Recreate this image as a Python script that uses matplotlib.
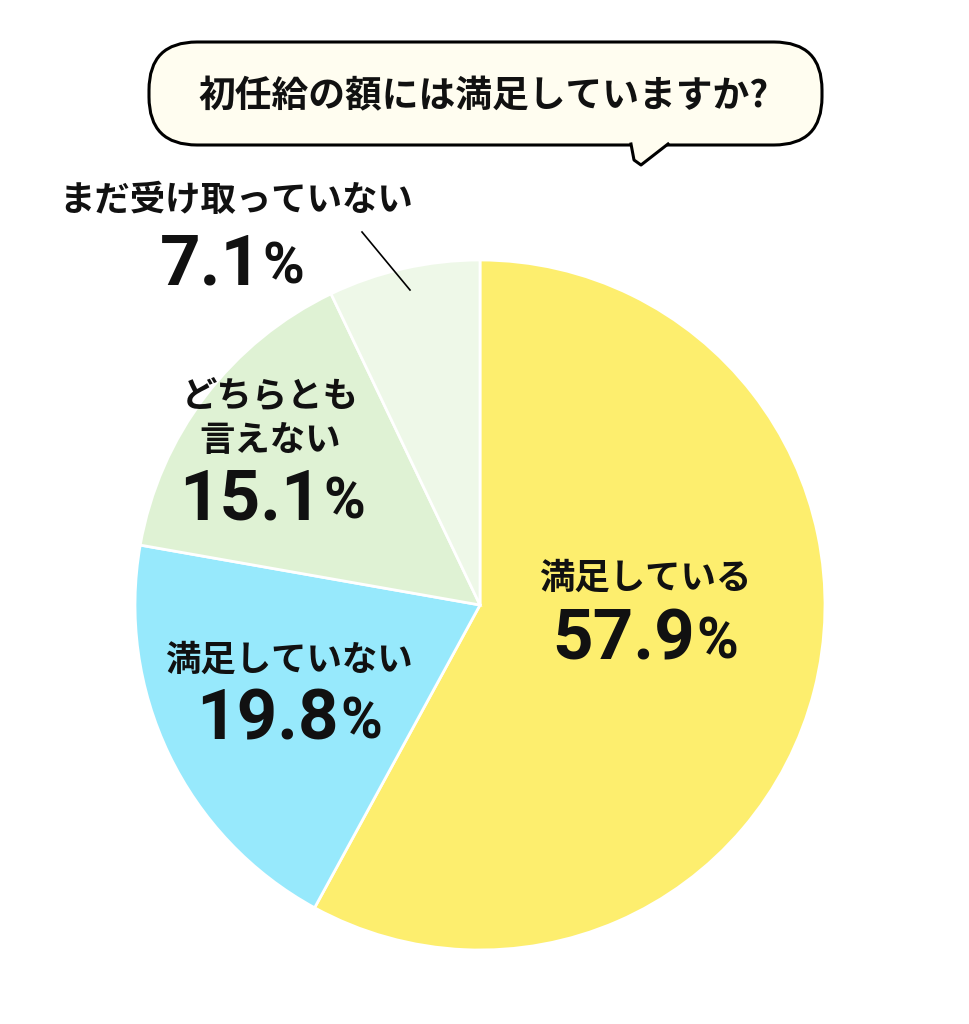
import matplotlib
matplotlib.use("Agg")
import matplotlib.pyplot as plt
from matplotlib.patches import FancyBboxPatch, Polygon
from matplotlib.lines import Line2D

plt.rcParams['font.family'] = ['Noto Sans CJK JP', 'DejaVu Sans']

title = "初任給の額には満足していますか?"
categories = ["満足している", "満足していない", "どちらとも\n言えない", "まだ受け取っていない"]
values = [57.9, 19.8, 15.1, 7.1]
value_labels = ["57.9", "19.8", "15.1", "7.1"]
colors = ["#FDEE6E", "#97E9FC", "#DFF2D4", "#EEF8E8"]

W, H = 969, 1024
fig = plt.figure(figsize=(W / 100, H / 100), dpi=100)
ax = fig.add_axes([0, 0, 1, 1])
ax.set_xlim(0, W)
ax.set_ylim(0, H)
ax.set_aspect('equal')
ax.axis('off')

def Y(y):
    return H - y

# pie
ax.pie(values, colors=colors, startangle=90, counterclock=False,
       center=(480, Y(605)), radius=345,
       wedgeprops=dict(edgecolor='white', linewidth=2), frame=True)
ax.set_xlim(0, W)
ax.set_ylim(0, H)
ax.axis('off')

# speech bubble
bfill = "#FFFDF0"
bubble = FancyBboxPatch((149, Y(145)), 673, 103,
                        boxstyle="round,pad=0,rounding_size=48",
                        facecolor=bfill, edgecolor='black', linewidth=2.2, zorder=3)
ax.add_patch(bubble)
tail = Polygon([(631, Y(143)), (634, Y(160)), (641, Y(165)), (668, Y(143))],
               closed=True, facecolor=bfill, edgecolor='none', zorder=4)
ax.add_patch(tail)
ax.add_line(Line2D([631, 634, 641, 668], [Y(144), Y(160), Y(165), Y(144)],
                   color='black', linewidth=2.2, zorder=5, solid_joinstyle='round'))
ax.text(483, Y(97), title, ha='center', va='center', fontsize=26.5,
        fontweight='bold', color='#111111', zorder=6)

# leader line
ax.add_line(Line2D([362, 410], [Y(232), Y(290)], color='black', linewidth=1.2))

fig.canvas.draw()
renderer = fig.canvas.get_renderer()

def pct_label(cx, cy, num, fs):
    t1 = ax.text(0, Y(cy), num, ha='left', va='center', fontsize=fs,
                 fontweight='bold', color='#111111', family=['Roboto', 'DejaVu Sans'])
    t2 = ax.text(0, Y(cy), "%", ha='left', va='center', fontsize=fs * 0.8,
                 fontweight='bold', color='#111111', family=['Roboto', 'DejaVu Sans'])
    w1 = t1.get_window_extent(renderer).width
    w2 = t2.get_window_extent(renderer).width
    gap = 1
    total = w1 + gap + w2
    x0 = cx - total / 2
    t1.set_x(x0)
    t2.set_x(x0 + w1 + gap)
    t2.set_y(Y(cy) - fs * 0.05)

lfs = 25.5
# labels
ax.text(645, Y(578), categories[0], ha='center', va='center', fontsize=lfs,
        fontweight='bold', color='#111111')
pct_label(645, 640, value_labels[0], 51)

ax.text(289, Y(660), categories[1], ha='center', va='center', fontsize=lfs,
        fontweight='bold', color='#111111')
pct_label(289, 720, value_labels[1], 51)

ax.text(270, Y(419), categories[2], ha='center', va='center', fontsize=lfs,
        fontweight='bold', color='#111111', linespacing=1.3)
pct_label(272, 500, value_labels[2], 51)

ax.text(236, Y(200), categories[3], ha='center', va='center', fontsize=lfs,
        fontweight='bold', color='#111111')
pct_label(232, 265, value_labels[3], 51)

fig.savefig("out.png", dpi=100, facecolor='white')
